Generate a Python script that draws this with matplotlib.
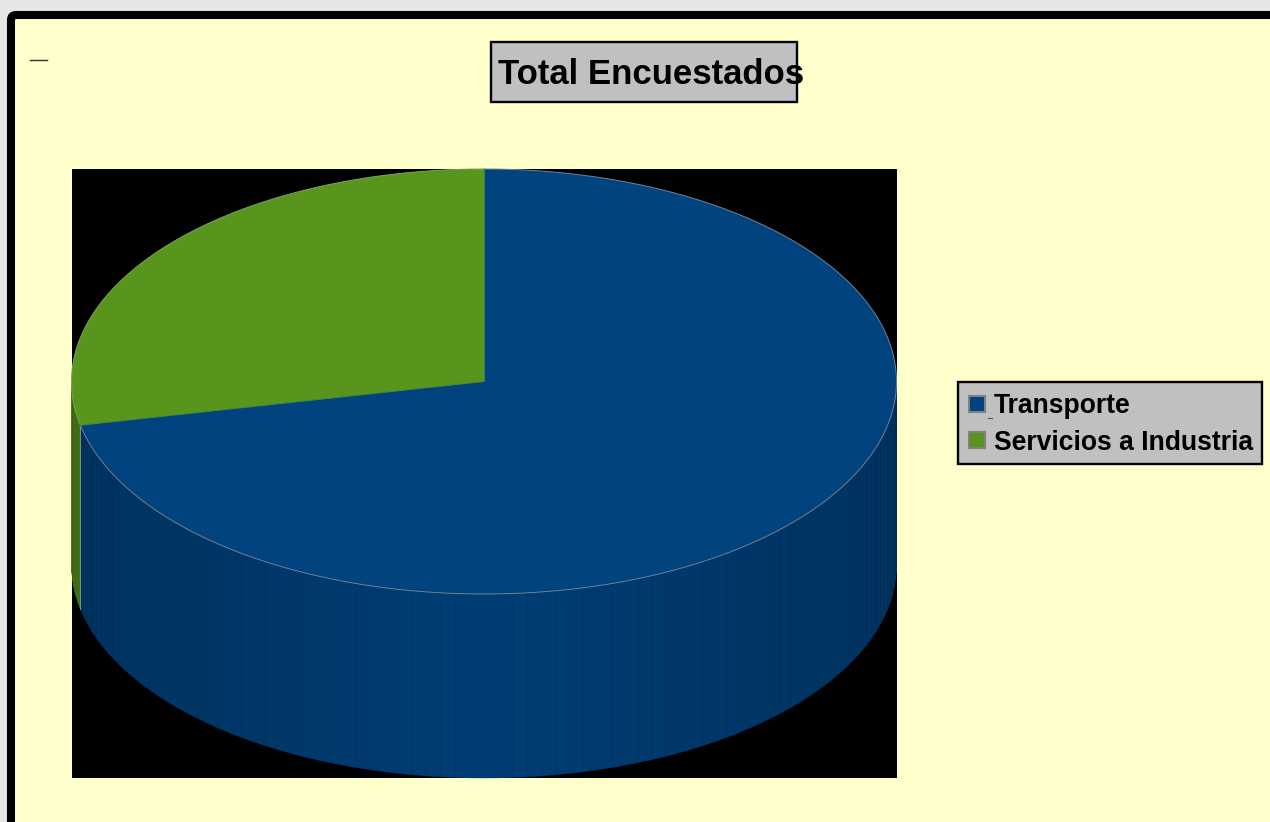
import numpy as np
import matplotlib
matplotlib.use("Agg")
import matplotlib.pyplot as plt
from matplotlib.patches import FancyBboxPatch, Rectangle

categories = ["Transporte", "Servicios a Industria"]
values = [71.7, 28.3]
colors = ["#00437F", "#57951C"]
title = "Total Encuestados"

W, H = 1270, 822
plt.rcParams["font.family"] = ["Liberation Sans", "DejaVu Sans"]
fig = plt.figure(figsize=(W / 100, H / 100), dpi=100, facecolor="#E6E6E6")
ax = fig.add_axes([0, 0, 1, 1])
ax.set_xlim(0, W)
ax.set_ylim(H, 0)
ax.axis("off")

# Page frame
ax.add_patch(FancyBboxPatch((11, 15), W + 40, H + 40, boxstyle="round,pad=0,rounding_size=5",
                            fc="#FFFFCC", ec="black", lw=5.8, zorder=1))
ax.plot([30, 47], [60.5, 60.5], color="#333333", lw=1, zorder=2)

# Plot wall
ax.add_patch(Rectangle((72, 169), 825, 609, fc="black", ec="none", zorder=2))

# Pie geometry
cx, cy, rx, ry, depth = 484, 381.5, 412.5, 212.5, 184
fractions = np.array(values) / np.sum(values)
starts = 90 - 360 * np.concatenate([[0], np.cumsum(fractions)[:-1]])
ends = starts - 360 * fractions


def pt(angle_deg, dy=0):
    a = np.radians(angle_deg)
    return cx + rx * np.cos(a), cy - ry * np.sin(a) + dy


def shade(hex_color, factor):
    rgb = np.array(matplotlib.colors.to_rgb(hex_color))
    return tuple(np.clip(rgb * factor, 0, 1))


# Side walls: front half only, drawn in narrow vertical facets
for i, (s, e) in enumerate(zip(starts, ends)):
    grid = np.arange(np.floor(e / 2) * 2, s + 2, 2.0)
    grid = np.unique(np.clip(grid, e, s))
    for a0, a1 in zip(grid[:-1], grid[1:]):
        am = (a0 + a1) / 2
        if np.sin(np.radians(am)) > 0:
            continue
        xa, ya = pt(a0)
        xb, yb = pt(a1)
        f = 0.92 - 0.17 * abs(np.cos(np.radians(am)))
        c = shade(colors[i], f)
        ax.fill([xa, xb, xb, xa], [ya, yb, yb + depth, ya + depth],
                facecolor=c, edgecolor=c, lw=0.3, zorder=3 + (i == 0))
bx, by = pt(ends[0])
ax.plot([bx, bx], [by, by + depth], color="#7F8F80", lw=0.7, zorder=5)

# Top faces
for i, (s, e) in enumerate(zip(starts, ends)):
    t = np.linspace(s, e, 300)
    xs, ys = pt(t)
    ax.fill(np.r_[cx, xs], np.r_[cy, ys], facecolor=colors[i], edgecolor="none", zorder=6)
    ax.plot(xs, ys, color="#6F8296" if i == 0 else "#7F9F60", lw=0.7, zorder=7)
ax.plot([cx, bx], [cy, by], color="#4F8A3A", lw=0.7, zorder=7)
ax.plot([cx, cx], [cy, cy - ry], color="#3F7A5A", lw=0.7, zorder=7)

# Title
ax.add_patch(Rectangle((491, 42), 305.5, 60, fc="#C0C0C0", ec="black", lw=1.7, zorder=8))
ax.text(498.5, 70.5, title, fontsize=25.0, fontweight="bold", color="black",
        ha="left", va="center_baseline", zorder=9)

# Legend
ax.add_patch(Rectangle((957.5, 382), 304.5, 82.5, fc="#C0C0C0", ec="black", lw=1.7, zorder=8))
for y, name, col in zip([403.7, 440], categories, colors):
    ax.add_patch(Rectangle((968.5, y - 8), 16, 16, fc=col, ec="#808080", lw=1.5, zorder=9))
    ax.text(994, y - 0.3, name, fontsize=19.1, fontweight="bold", color="black",
            ha="left", va="center_baseline", zorder=9)
ax.plot([988, 992], [418, 418], color="#555555", lw=0.8, zorder=9)

fig.savefig("out.png", dpi=100, facecolor=fig.get_facecolor())
